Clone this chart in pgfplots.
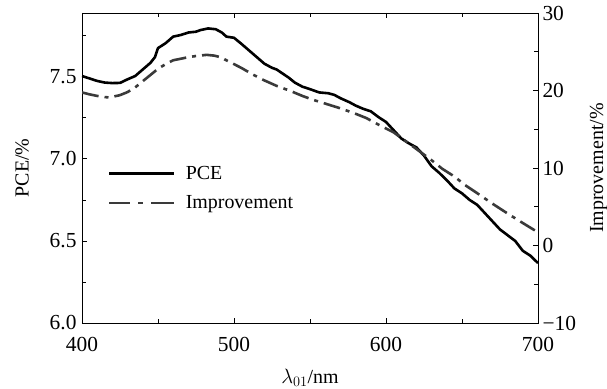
\documentclass[border=0pt]{standalone}
\usepackage{pgfplots}
\pgfplotsset{compat=1.18}
\usepackage{fontspec}
\setmainfont{Liberation Serif}
\definecolor{impcol}{HTML}{3A3A3A}
\begin{document}
\begin{tikzpicture}[font=\fontsize{20}{23}\selectfont]
\path[use as bounding box] (-82bp,-66bp) rectangle (525bp,323bp);
\begin{axis}[
  at={(0,0)}, anchor=south west,
  scale only axis, width=456bp, height=310bp,
  xmin=400, xmax=700, ymin=6, ymax=7.889,
  xtick={400,500,600,700}, minor xtick={450,550,650},
  ytick={6,6.5,7,7.5}, minor ytick={6.25,6.75,7.25,7.75},
  yticklabels={6.0,6.5,7.0,7.5},
  xtick pos=both, ytick pos=left,
  tick align=inside,
  major tick length=5bp, minor tick length=4.5bp,
  axis line style={line width=0.8bp},
  every tick/.style={line width=0.8bp, black},
  /pgf/number format/assume math mode=true,
  tick label style={font=\fontsize{21.5}{24}\selectfont},
  xticklabel style={yshift=-11bp},
  yticklabel style={xshift=-2bp},
  xlabel={$\lambda_{01}$/nm},
  ylabel={PCE/\%},
  xlabel style={yshift=-10bp},
  ylabel style={yshift=14bp},
  legend style={at={(0.057,0.4355)}, anchor=west, draw=none, fill=none,
    inner sep=0pt, row sep=11bp, cells={anchor=west},
    /tikz/every odd column/.append style={column sep=8bp}},
]
\addplot[black, line width=2.6bp, line join=round,
  legend image code/.code={\draw[black, line width=2.6bp] (0bp,0bp) -- (65bp,0bp);}] coordinates {
(400,7.505)(405,7.49)(410,7.475)(415,7.465)(420,7.462)(425,7.463)(430,7.485)
(435,7.505)(440,7.545)(445,7.585)(448,7.62)(450,7.675)(455,7.705)(460,7.745)
(465,7.755)(470,7.77)(475,7.775)(478,7.785)(483,7.795)(488,7.79)(492,7.77)
(495,7.745)(500,7.738)(505,7.70)(510,7.66)(515,7.62)(520,7.58)(525,7.555)
(528,7.545)(532,7.52)(536,7.495)(540,7.465)(545,7.44)(550,7.425)(556,7.405)
(562,7.400)(566,7.39)(570,7.37)(576,7.345)(580,7.325)(585,7.305)(590,7.29)
(595,7.255)(600,7.225)(605,7.175)(610,7.125)(615,7.095)(620,7.07)(625,7.02)
(630,6.955)(635,6.915)(640,6.87)(645,6.82)(650,6.79)(655,6.75)(660,6.72)
(665,6.67)(670,6.62)(675,6.57)(680,6.535)(685,6.50)(690,6.44)(695,6.41)(700,6.365)
};
\addlegendentry{PCE}
\addlegendimage{legend image code/.code={\draw[impcol, line width=2.6bp, dash pattern=on 21bp off 8bp on 5bp off 8bp on 30bp] (0bp,0bp) -- (65bp,0bp);}}
\addlegendentry{Improvement}
\end{axis}
\begin{axis}[
  at={(0,0)}, anchor=south west,
  scale only axis, width=456bp, height=310bp,
  xmin=400, xmax=700, ymin=-10, ymax=30,
  hide x axis,
  ytick={-10,0,10,20,30}, minor ytick={-5,5,15,25},
  yticklabels={−10,0,10,20,30},
  ytick pos=right, yticklabel pos=right,
  tick align=inside,
  major tick length=5bp, minor tick length=4.5bp,
  axis line style={line width=0.8bp},
  every tick/.style={line width=0.8bp, black},
  tick label style={font=\fontsize{21.5}{24}\selectfont},
  yticklabel style={xshift=1bp},
  ylabel={Improvement/\%},
  ylabel style={yshift=-7bp},
]
\addplot[impcol, line width=2.6bp, dash pattern=on 17bp off 6bp on 4bp off 6bp] coordinates {
(400,19.75)(405,19.5)(410,19.3)(415,19.15)(418,19.1)(425,19.4)(430,19.8)
(435,20.4)(440,21.2)(445,22.0)(450,22.8)(455,23.4)(460,23.9)(465,24.1)
(470,24.3)(475,24.45)(482,24.6)(487,24.5)(491,24.3)(500,23.4)(505,22.9)
(512,22.1)(520,21.3)(528,20.6)(537,19.95)(545,19.3)(552,18.8)(561,18.25)
(570,17.7)(580,17.0)(587,16.45)(595,15.6)(600,15.1)(605,14.6)(612,13.6)
(620,12.45)(630,11.0)(637,9.9)(645,8.9)(652,7.8)(660,6.75)(670,5.4)
(681,4.0)(690,2.9)(700,1.7)
};
\end{axis}
\end{tikzpicture}
\end{document}
